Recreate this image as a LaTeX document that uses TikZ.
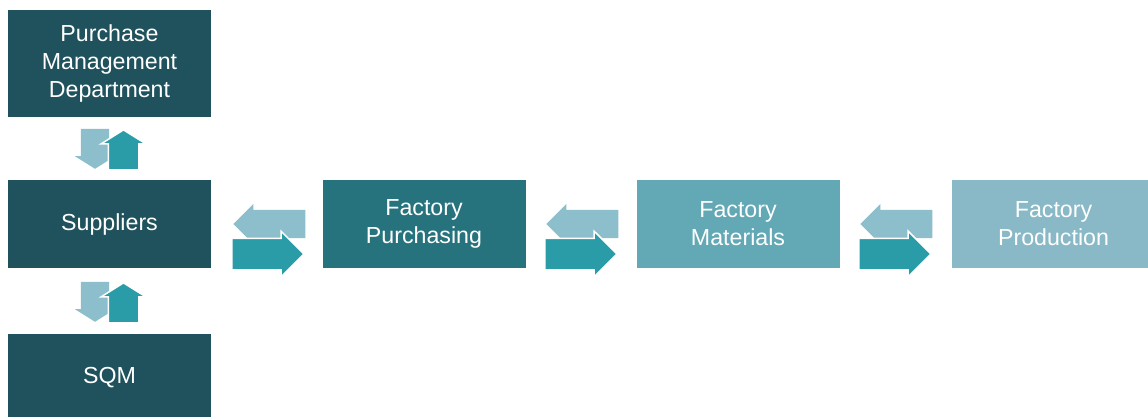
\documentclass[tikz,border=0pt]{standalone}
\usepackage{fontspec}
\setmainfont{Liberation Sans}
\usetikzlibrary{shapes.arrows}
\definecolor{boxdark}{HTML}{1F525C}
\definecolor{boxpurch}{HTML}{26737E}
\definecolor{boxmater}{HTML}{62A8B5}
\definecolor{boxprod}{HTML}{89B9C6}
\definecolor{arrlight}{HTML}{8CBFCB}
\definecolor{arrdark}{HTML}{2A9CA8}

\begin{document}
\begin{tikzpicture}[x=1pt,y=-1pt]
 \tikzset{unit/.style = {shape=rectangle,minimum width=203pt,minimum height=88pt,inner sep=0pt,text=white,align=center,font=\fontsize{23.2}{28}\selectfont}}
 \tikzset{flowback/.style = {single arrow,fill=arrlight,minimum height=72pt,inner xsep=0pt,inner ysep=14pt,single arrow head extend=6pt,anchor=tip,rotate=180}}
 \tikzset{flowfwd/.style = {single arrow,fill=arrdark,draw=white,line width=1.5pt,minimum height=72pt,inner xsep=0pt,inner ysep=15pt,single arrow head extend=7pt,anchor=tip}}
 \tikzset{swapdown/.style = {single arrow,fill=arrlight,minimum height=40pt,inner xsep=0pt,inner ysep=14pt,single arrow head extend=6pt,single arrow tip angle=116,anchor=tip,rotate=-90}}
 \tikzset{swapup/.style = {single arrow,fill=arrdark,draw=white,line width=1.5pt,minimum height=40pt,inner xsep=0pt,inner ysep=14.5pt,single arrow head extend=7pt,single arrow tip angle=116,anchor=tip,rotate=90}}
 \useasboundingbox (0,0) rectangle (1148,416);
 \clip (0,0) rectangle (1148,416);

 % units
 \node[unit,fill=boxdark,minimum height=107pt] (pmd) at (109.5,63.5) {Purchase\\Management\\Department};
 \node[unit,fill=boxdark] (sup) at (109.5,224) {Suppliers};
 \node[unit,fill=boxdark] (sqm) at (109.5,378) {SQM};
 \node[unit,fill=boxpurch] (fpur) at (424,224) {Factory\\Purchasing};
 \node[unit,fill=boxmater] (fmat) at (738,224) {Factory\\Materials};
 \node[unit,fill=boxprod] (fprod) at (1053.5,224) {Factory\\Production};

 % exchanges
 \node[swapdown] (pmdsupdown) at (95,169) {};
 \node[swapup] (pmdsupup) at (123.5,129) {};
 \node[swapdown] (supsqmdown) at (95,322) {};
 \node[swapup] (supsqmup) at (123.5,282) {};
 \foreach \xl/\xr/\nm in {233/305/one,546/618/two,860/932/three}{
  \node[flowback] (back\nm) at (\xl,224) {};
  \node[flowfwd] (fwd\nm) at (\xr,254) {};
 }
\end{tikzpicture}
\end{document}
